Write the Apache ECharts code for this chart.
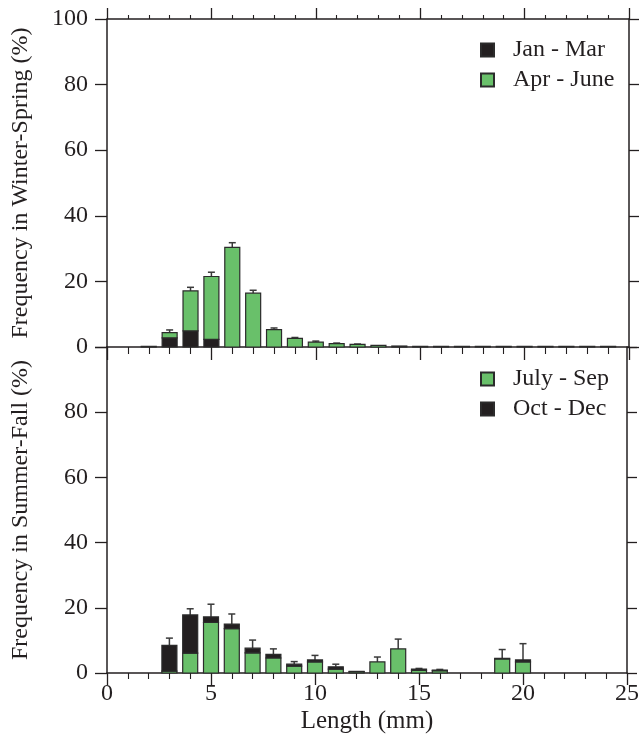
<!DOCTYPE html>
<html>
<head>
<meta charset="utf-8">
<script src="https://cdn.jsdelivr.net/npm/echarts@6/dist/echarts.min.js"></script>
<style>
html,body{margin:0;padding:0;background:#fff;}
#chart{width:642px;height:751px;}
</style>
</head>
<body>
<div id="chart"></div>
<script>
// ---- data ----
const lengths = [0,1,2,3,4,5,6,7,8,9,10,11,12,13,14,15,16,17,18,19,20,21,22,23,24];
const xTicks = [0,5,10,15,20,25];
const yTicks = [0,20,40,60,80,100];

// Winter-Spring panel (Jan - Mar at bottom, Apr - June stacked on top)
const janMar  = [null,null,null,2.8,4.9,2.3,null,null,null,null,null,null,null,null,null,null,null,null,null,null,null,null,null,null,null];
const aprJune = [null,null,0.2,1.6,12.2,19.2,30.4,16.4,5.3,2.6,1.5,1.0,0.8,0.5,0.3,0.2,0.2,0.2,0.2,0.2,0.2,0.2,0.2,0.2,0.2];
const wsErrTop = [null,null,null,5.2,18.2,22.8,31.8,17.3,5.8,2.9,1.8,1.2,0.9,null,null,null,null,null,null,null,null,null,null,null,null];

// Summer-Fall panel (July - Sep at bottom, Oct - Dec stacked on top)
const julySep = [null,null,null,0.6,6.1,15.5,13.6,6.2,4.6,2.1,3.4,1.2,0.4,3.4,7.4,0.8,0.7,null,null,4.3,3.4,null,null,null,null];
const octDec  = [null,null,null,7.9,11.7,1.7,1.4,1.4,1.1,0.6,0.6,0.7,0.1,null,null,0.4,0.2,null,null,0.2,0.6,null,null,null,null];
const sfErrTop = [null,null,null,10.7,19.7,21.1,18.1,10.1,7.4,3.5,5.4,2.7,null,4.9,10.4,1.4,1.1,null,null,7.2,9.0,null,null,null,null];

// ---- styles ----
const FONT = 'Liberation Serif';
const INK = '#231f20';
const GREEN = '#69c06a';
const BLACK = '#231f20';
const EDGE = '#2b2b2b';
const BAR_W = 15;

function stackData(lower, arr){
  const out=[];
  lengths.forEach((x,i)=>{
    if(arr[i]==null) return;
    const lo = lower ? (lower[i]||0) : 0;
    out.push([x, lo, lo+arr[i]]);
  });
  return out;
}
function barSeries(name, xi, yi, data, color){
  return {
    name:name, type:'custom', xAxisIndex:xi, yAxisIndex:yi, data:data, z:3,
    encode:{x:0, y:[1,2]},
    itemStyle:{color:color, borderColor:EDGE, borderWidth:1.2},
    renderItem:function(params, api){
      const x=api.value(0), lo=api.value(1), hi=api.value(2);
      const p0=api.coord([x,lo]), p1=api.coord([x,hi]);
      return {type:'rect',
        shape:{x:p0[0]-BAR_W/2, y:p1[1], width:BAR_W, height:p0[1]-p1[1]},
        style:{fill:color, stroke:EDGE, lineWidth:1.2}};
    }
  };
}
function errData(a,b,top){
  const out=[];
  lengths.forEach((x,i)=>{
    if(top[i]==null) return;
    const base=(a[i]||0)+(b[i]||0);
    out.push([x, base, top[i]]);
  });
  return out;
}
function errSeries(name, xi, yi, data){
  return {
    name: name, type:'custom', xAxisIndex:xi, yAxisIndex:yi, data:data, clip:false, z:2,
    encode:{x:0,y:[1,2]}, silent:true,
    renderItem:function(params, api){
      const x=api.value(0), lo=api.value(1), hi=api.value(2);
      const p1=api.coord([x,lo]), p2=api.coord([x,hi]);
      const st={stroke:'#3a3a3a', lineWidth:1.5};
      return {type:'group', children:[
        {type:'line', shape:{x1:p1[0],y1:p1[1],x2:p2[0],y2:p2[1]}, style:st},
        {type:'line', shape:{x1:p2[0]-3.5,y1:p2[1],x2:p2[0]+3.5,y2:p2[1]}, style:st}
      ]};
    }
  };
}

const axisLine = {show:true, onZero:false, lineStyle:{color:INK, width:1.5}};
function xAx(grid, pos, major, minor, labels){
  return {
    type:'value', gridIndex:grid, position:pos, min:0, max:25, interval:5,
    axisLine:axisLine,
    axisTick:{show:true, length:major, lineStyle:{color:INK, width:1.3}},
    minorTick:{show:true, splitNumber:5, length:minor, lineStyle:{color:INK, width:1.1}},
    axisLabel:{show:labels, margin:9, fontFamily:FONT, fontSize:24, color:INK},
    splitLine:{show:false}, minorSplitLine:{show:false},
    name: labels ? 'Length (mm)' : '', nameLocation:'middle', nameGap:36,
    nameTextStyle:{fontFamily:FONT, fontSize:25, color:INK}
  };
}
function yAx(grid, pos, labels, name, hideTop){
  return {
    type:'value', gridIndex:grid, position:pos, min:0, max:100, interval:20,
    axisLine:axisLine,
    axisTick:{show:true, length: pos==='left'?12:10, lineStyle:{color:INK, width:1.3}},
    axisLabel:{show:labels, margin:19, fontFamily:FONT, fontSize:24, color:INK,
      formatter:function(v){ return (hideTop && v===100) ? '' : String(v); }},
    splitLine:{show:false},
    name: name||'', nameLocation:'middle', nameGap:74,
    nameTextStyle:{fontFamily:FONT, fontSize:24, color:INK}
  };
}

const legendText = {fontFamily:FONT, fontSize:24, color:INK, padding:[0,0,0,14]};

const option = {
  backgroundColor:'#fff',
  animation:false,
  grid:[
    {left:107, right:13, top:19, height:328},
    {left:107, right:13, top:347, height:326}
  ],
  xAxis:[
    xAx(0,'bottom',13,7,false),
    xAx(0,'top',11,4,false),
    xAx(1,'bottom',12,6,true)
  ],
  yAxis:[
    yAx(0,'left',true,'Frequency in Winter-Spring (%)',false),
    yAx(0,'right',false,'',false),
    yAx(1,'left',true,'Frequency in Summer-Fall (%)',true),
    yAx(1,'right',false,'',false)
  ],
  legend:[
    {data:['Jan - Mar','Apr - June'], orient:'vertical', left:475, top:33,
     itemWidth:13, itemHeight:13, itemGap:6, icon:'rect', textStyle:legendText},
    {data:['July - Sep','Oct - Dec'], orient:'vertical', left:475, top:362,
     itemWidth:13, itemHeight:13, itemGap:6, icon:'rect', textStyle:legendText}
  ],
  series:[
    errSeries('wsErr',0,0,errData(janMar,aprJune,wsErrTop)),
    barSeries('Jan - Mar',0,0,stackData(null,janMar),BLACK),
    barSeries('Apr - June',0,0,stackData(janMar,aprJune),GREEN),
    errSeries('sfErr',2,2,errData(julySep,octDec,sfErrTop)),
    barSeries('July - Sep',2,2,stackData(null,julySep),GREEN),
    barSeries('Oct - Dec',2,2,stackData(julySep,octDec),BLACK)
  ]
};

const chart = echarts.init(document.getElementById('chart'), null, {renderer:'canvas'});
chart.setOption(option);
</script>
</body>
</html>
